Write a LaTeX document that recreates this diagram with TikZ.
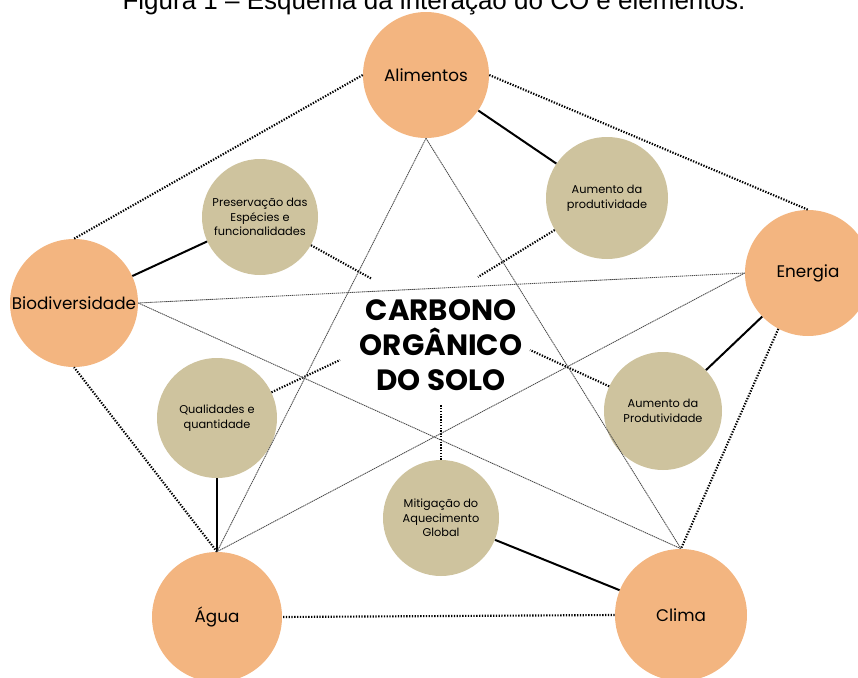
\documentclass[tikz,border=0pt]{standalone}
\usepackage{fontspec}
\setmainfont{Poppins}
\newfontfamily\titlefont{Liberation Sans}
\definecolor{orng}{RGB}{243,181,128}
\definecolor{beige}{RGB}{206,195,158}
\begin{document}
\begin{tikzpicture}[x=0.75pt,y=-0.75pt,
  orangenode/.style={circle,fill=orng,inner sep=0pt,minimum size=#1*1.5pt,align=center,font=\fontsize{12.6}{14}\selectfont},
  beigenode/.style={circle,fill=beige,inner sep=0pt,minimum size=#1*1.5pt,align=center,font=\fontsize{8.5}{11}\selectfont},
  solidlink/.style={line width=1.5pt,black},
  dotlink/.style={line width=1.6pt,black,dash pattern=on 1pt off 1.1pt},
  starlink/.style={line width=0.65pt,black!70,dash pattern=on 1pt off 0.5pt}]
\useasboundingbox (0,0) rectangle (858,678);
% title (cut off at top, as in the source)
\node[anchor=base,font=\titlefont\fontsize{19.5}{22}\selectfont,inner sep=0pt] (title) at (434,10) {Figura 1 – Esquema da interação do CO e elementos.};
% main circles
\node[orangenode=63] (alim) at (426,75) {Alimentos};
\node[orangenode=63] (ener) at (808,273) {Energia};
\node[orangenode=64] (bio) at (74,303) {Biodiversidade};
\node[orangenode=65] (agua) at (217,617) {Água};
\node[orangenode=66] (clima) at (681,615) {Clima};
% secondary circles
\node[beigenode=58] (pres) at (260,217) {Preservação das\\Espécies e\\funcionalidades};
\node[beigenode=61] (aum1) at (607,198) {Aumento da\\produtividade};
\node[beigenode=60] (qual) at (217,418) {Qualidades e\\quantidade};
\node[beigenode=59] (aum2) at (663,411) {Aumento da\\Produtividade};
\node[beigenode=58] (mit) at (441,518) {Mitigação do\\Aquecimento\\Global};
% center
\node[font=\bfseries\fontsize{22}{26.5}\selectfont,align=center,inner sep=0pt] (co) at (441,345) {CARBONO\\ORGÂNICO\\DO SOLO};
% free ends
\coordinate (e1) at (372,279);
\coordinate (e2) at (478,277);
\coordinate (e3) at (340,360);
\coordinate (e4) at (530,350);
\coordinate (e5) at (441,405);
% solid links
\draw[solidlink] (alim) -- (aum1);
\draw[solidlink] (bio) -- (pres);
\draw[solidlink] (ener) -- (aum2);
\draw[solidlink] (qual) -- (agua);
\draw[solidlink] (mit) -- (clima);
% pentagon
\draw[dotlink] (alim.west) -- (bio.north);
\draw[dotlink] (alim.east) -- (ener.north);
\draw[dotlink] (ener.242) -- (clima.north);
\draw[dotlink] (clima.west) -- (agua.east);
\draw[dotlink] (agua.north) -- (bio.south);
% short dotted links toward center
\draw[dotlink] (pres) -- (e1);
\draw[dotlink] (aum1) -- (e2);
\draw[dotlink] (qual) -- (e3);
\draw[dotlink] (aum2) -- (e4);
\draw[dotlink] (mit) -- (e5);
% star
\draw[starlink] (alim.south) -- (agua.north);
\draw[starlink] (alim.south) -- (clima.north);
\draw[starlink] (bio.east) -- (ener.west);
\draw[starlink] (bio.east) -- (clima.north);
\draw[starlink] (ener.west) -- (agua.north);
\end{tikzpicture}
\end{document}
